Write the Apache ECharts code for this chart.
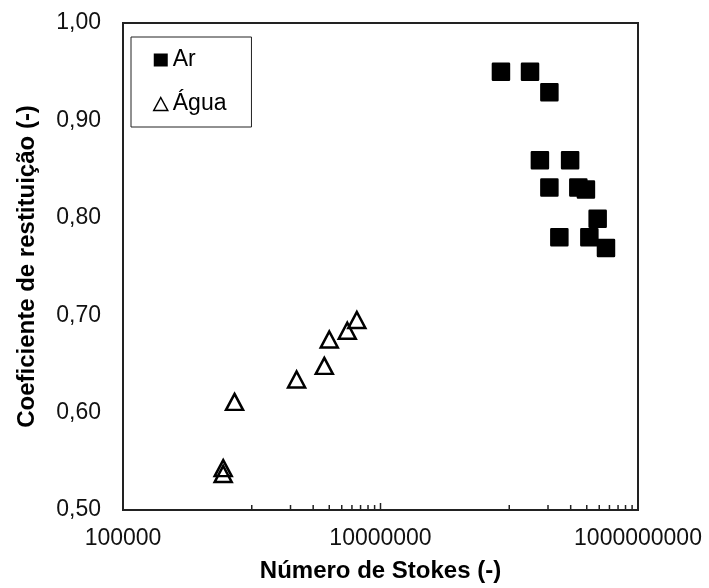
<!DOCTYPE html>
<html>
<head>
<meta charset="utf-8">
<script src="https://cdn.jsdelivr.net/npm/echarts@6/dist/echarts.min.js"></script>
<style>
  html, body { margin: 0; padding: 0; background: #fff; }
  #chart { width: 709px; height: 588px; }
</style>
</head>
<body>
<div id="chart"></div>
<script>
// Stokes number vs. coefficient of restitution, air and water
const arStokes = [8.62e7, 1.45e8, 2.05e8, 1.73e8, 2.97e8, 2.05e8, 3.44e8, 3.94e8, 4.86e8, 2.45e8, 4.19e8, 5.64e8];
const arRestituicao = [0.950, 0.950, 0.929, 0.859, 0.859, 0.831, 0.831, 0.829, 0.799, 0.780, 0.780, 0.769];

const aguaStokes = [6.0e5, 6.0e5, 7.35e5, 2.23e6, 3.66e6, 4.0e6, 5.52e6, 6.55e6];
const aguaRestituicao = [0.543, 0.537, 0.611, 0.634, 0.648, 0.675, 0.684, 0.695];

// Inward tick marks along the log axis
const minorTicks = [1e6, 2e6, 3e6, 4e6, 5e6, 6e6, 7e6, 8e6, 9e6,
                    1e8, 2e8, 3e8, 4e8, 5e8, 6e8, 7e8, 8e8, 9e8];
const majorTicks = [1e7];

const yMin = 0.5, yMax = 1.0, yStep = 0.1;
const xMin = 1e5, xMax = 1e9;

const FONT = '"Liberation Sans", Arial, sans-serif';
const INK = '#222';

const chart = echarts.init(document.getElementById('chart'), null, { renderer: 'canvas' });

function pairs(xs, ys) { return xs.map((x, i) => [x, ys[i]]); }

const tickData = minorTicks.map(v => [v, 5]).concat(majorTicks.map(v => [v, 7]));

chart.setOption({
  animation: false,
  backgroundColor: '#fff',
  grid: {
    left: 123, right: 71, top: 23, bottom: 77,
    show: true, borderColor: INK, borderWidth: 2, backgroundColor: 'transparent'
  },
  legend: {
    left: 131, top: 37,
    orient: 'vertical',
    borderColor: INK, borderWidth: 1,
    padding: [10, 25, 10, 22],
    itemGap: 18,
    itemWidth: 14, itemHeight: 13,
    textStyle: { fontFamily: FONT, fontSize: 23, color: '#000', lineHeight: 26 },
    data: [
      { name: 'Ar', icon: 'rect', itemStyle: { color: '#000', borderWidth: 0 } },
      { name: 'Água', icon: 'triangle', itemStyle: { color: 'rgba(255,255,255,0)', borderColor: '#000', borderWidth: 1.5 } }
    ]
  },
  xAxis: {
    type: 'log', logBase: 10, min: xMin, max: xMax,
    name: 'Número de Stokes (-)', nameLocation: 'middle', nameGap: 49,
    nameTextStyle: { fontFamily: FONT, fontSize: 24, fontWeight: 'bold', color: '#000' },
    axisLine: { lineStyle: { color: INK, width: 2 } },
    axisTick: { show: false },
    splitLine: { show: false },
    axisLabel: {
      fontFamily: FONT, fontSize: 23, color: '#111', margin: 17,
      formatter: v => {
        const e = Math.round(Math.log10(v));
        return e % 2 === 1 ? String(Math.pow(10, e)) : '';
      }
    }
  },
  yAxis: {
    type: 'value', min: yMin, max: yMax, interval: yStep,
    name: 'Coeficiente de restituição (-)', nameLocation: 'middle', nameGap: 84,
    nameTextStyle: { fontFamily: FONT, fontSize: 24, fontWeight: 'bold', color: '#000' },
    axisLine: { show: true, lineStyle: { color: INK, width: 2 } },
    axisTick: { show: false },
    splitLine: { show: false },
    axisLabel: {
      fontFamily: FONT, fontSize: 23, color: '#111', margin: 22,
      formatter: v => v.toFixed(2).replace('.', ',')
    }
  },
  series: [
    {
      name: 'Ar', type: 'scatter',
      data: pairs(arStokes, arRestituicao),
      symbol: 'rect', symbolSize: 16,
      itemStyle: { color: '#000', borderColor: '#000', borderWidth: 2.5, borderJoin: 'round', opacity: 1 },
      z: 3
    },
    {
      name: 'Água', type: 'scatter',
      data: pairs(aguaStokes, aguaRestituicao),
      symbol: 'triangle', symbolSize: [17, 16],
      itemStyle: { color: 'rgba(255,255,255,0)', borderColor: '#000', borderWidth: 2.5, opacity: 1 },
      z: 3
    },
    {
      name: 'ticks', type: 'custom',
      data: tickData,
      silent: true,
      clip: false,
      z: 4,
      renderItem: (params, api) => {
        const p = api.coord([api.value(0), yMin]);
        const len = api.value(1);
        return {
          type: 'line',
          shape: { x1: p[0], y1: p[1], x2: p[0], y2: p[1] - len },
          style: { stroke: INK, lineWidth: 1.5 }
        };
      }
    }
  ]
});
</script>
</body>
</html>
